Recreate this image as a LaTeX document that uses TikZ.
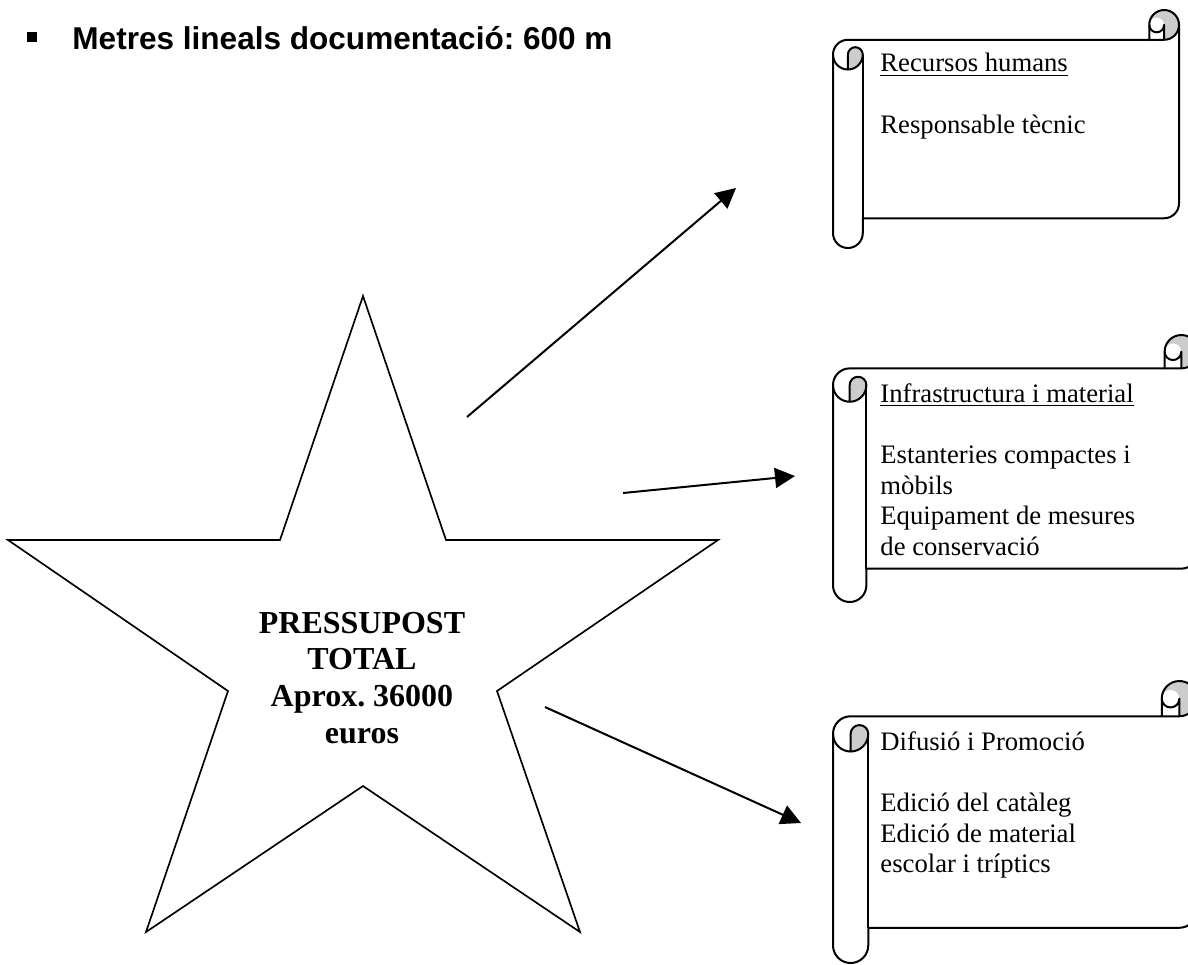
\documentclass[tikz,border=0pt]{standalone}
\usepackage{fontspec}
\setmainfont{Liberation Serif}
\newfontfamily\headfont{Liberation Sans}
\usepackage{tikz}
\usetikzlibrary{arrows.meta}
\frenchspacing
\tikzstyle{heading} = [inner sep=0pt, anchor=base west, font=\headfont\bfseries\fontsize{14.2}{17}\selectfont]
\tikzstyle{bulletmark} = [fill=black, inner sep=0pt, minimum size=4.5pt]
\tikzstyle{scrolltext} = [inner sep=0pt, anchor=north west, align=left, font=\fontsize{12}{13.8}\selectfont]
\tikzstyle{startext} = [inner sep=0pt, align=center, font=\bfseries\fontsize{14.4}{16.6}\selectfont]
\tikzstyle{outline} = [line width=0.75pt]
\tikzstyle{scrollline} = [line width=0.9pt, line join=round]
\tikzstyle{curl} = [fill=black!20]
\tikzstyle{arrow} = [line width=0.9pt, -{Triangle[length=9pt, width=9pt]}]

% horizontal scroll: left #1, top #2, right #3, bottom #4 (y runs downwards)
\newcommand{\scrollshape}[4]{%
  \pgfmathsetmacro{\rc}{0.125*min(#3-#1,#4-#2)}%
  \pgfmathsetmacro{\rch}{\rc/2}%
  \pgfmathsetmacro{\rcq}{\rc/4}%
  \fill[curl] ({#1+\rch},{#2+2*\rc}) arc[start angle=90, end angle=0, radius=\rch] arc[start angle=0, end angle=-180, radius=\rcq] -- cycle;
  \fill[curl] ({#3-\rch},{#2+\rc}) arc[start angle=90, end angle=-180, radius=\rch] arc[start angle=180, end angle=360, radius=\rcq] -- cycle;
  \draw[scrollline] (#1,{#2+1.5*\rc}) arc[start angle=180, end angle=270, radius=\rch] -- ({#3-\rc},{#2+\rc}) -- ({#3-\rc},{#2+\rch}) arc[start angle=180, end angle=360, radius=\rch] -- (#3,{#4-1.5*\rc}) arc[start angle=0, end angle=90, radius=\rch] -- ({#1+\rc},{#4-\rc}) -- ({#1+\rc},{#4-\rch}) arc[start angle=0, end angle=180, radius=\rch] -- cycle;
  \draw[scrollline] ({#3-\rc},{#2+\rc}) -- ({#3-\rch},{#2+\rc}) arc[start angle=90, end angle=0, radius=\rch];
  \draw[scrollline] ({#3-\rch},{#2+\rc}) -- ({#3-\rch},{#2+\rch}) arc[start angle=0, end angle=180, radius=\rcq];
  \draw[scrollline] ({#1+\rch},{#2+2*\rc}) -- ({#1+\rch},{#2+1.5*\rc}) arc[start angle=180, end angle=360, radius=\rcq] arc[start angle=0, end angle=180, radius=\rch];
  \draw[scrollline] ({#1+\rc},{#2+1.5*\rc}) -- ({#1+\rc},{#4-\rc});
}

\begin{document}
\begin{tikzpicture}[x=0.45pt, y=-0.45pt] % one unit = one pixel of the page, y downwards
\useasboundingbox (0,0) rectangle (1188,964);

% Heading line
\node(bullet)      [bulletmark] at (31.5,36.5) {};
\node(metres)      [heading]    at (72,49)     {Metres lineals documentació: 600 m};

% The star with the total
\draw[outline] (363,296) -- (446,540) -- (718,540) -- (497,691) -- (580,932) -- (363,786)
               -- (146,932) -- (228,691) -- (8,540) -- (280,540) -- cycle;
\node(total)       [startext]   at (362,678)   {PRESSUPOST\\TOTAL\\Aprox. 36000\\euros};

% The three scrolls
\scrollshape{833}{10}{1179}{248}
\scrollshape{833}{335}{1198}{602}
\scrollshape{833}{681}{1197}{963}
\node(humans)      [scrolltext] at (880,53)    {\underline{Recursos humans}\\[13.8pt]Responsable tècnic};
\node(material)    [scrolltext] at (880,383)   {\underline{Infrastructura i material}\\[13.8pt]Estanteries compactes i\\mòbils\\Equipament de mesures\\de conservació};
\node(promocio)    [scrolltext] at (880,731)   {Difusió i Promoció\\[13.8pt]Edició del catàleg\\Edició de material\\escolar i tríptics};

% Arrow ends
\coordinate (humans_from)   at (467,417);
\coordinate (humans_to)     at (736,188);
\coordinate (material_from) at (623,493);
\coordinate (material_to)   at (795,476);
\coordinate (promocio_from) at (545,707);
\coordinate (promocio_to)   at (801,823);

% Connect the star with the scrolls
\draw [arrow] (humans_from)   -- (humans_to);
\draw [arrow] (material_from) -- (material_to);
\draw [arrow] (promocio_from) -- (promocio_to);

\end{tikzpicture}
\end{document}
